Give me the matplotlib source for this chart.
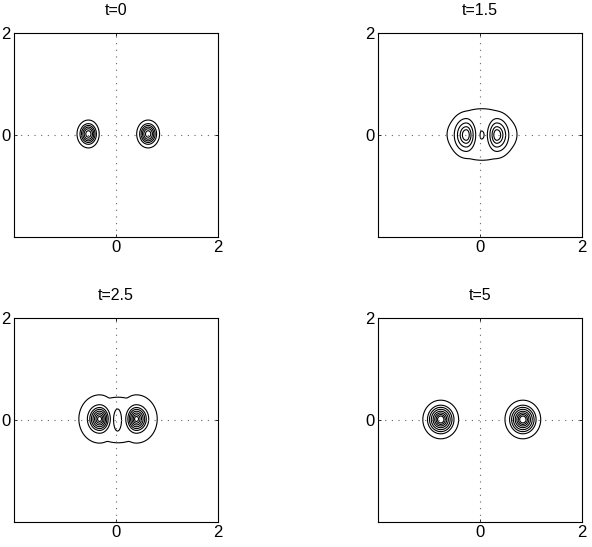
import numpy as np
import matplotlib
matplotlib.use("Agg")
import matplotlib.pyplot as plt

plt.rcParams['font.family'] = ['Liberation Sans', 'DejaVu Sans']

titles = ["t=0", "t=1.5", "t=2.5", "t=5"]
tick_vals = [0, 2]
tick_labels = ["0", "2"]

# blob components: x0, y0, width to the left, width to the right, height, amplitude, sharpness
blobs_t0 = [(-0.54, 0.02, 0.16, 0.15, 0.195, 1.0, 2),
            (0.63, 0.02, 0.16, 0.16, 0.195, 1.0, 2)]
levels_t0 = [0.14, 0.34, 0.48, 0.62, 0.76, 0.90]

blobs_t15 = [(-0.27, 0.0, 0.226, 0.178, 0.31, 1.0, 2),
             (0.33, 0.0, 0.178, 0.226, 0.31, 1.0, 2),
             (0.04, 0.01, 0.76, 0.76, 0.56, 0.25, 3),
             (0.03, 0.0, 0.07, 0.12, 0.19, 0.40, 2)]
levels_t15 = [0.12, 0.34, 0.56, 0.76, 0.895]

blobs_t25 = [(-0.32, 0.02, 0.22, 0.19, 0.255, 1.0, 2),
             (0.40, 0.02, 0.19, 0.22, 0.255, 1.0, 2),
             (0.04, 0.0, 0.42, 0.42, 0.33, 0.20, 2),
             (0.03, 0.0, 0.115, 0.115, 0.32, 0.33, 6)]
levels_t25 = [0.032, 0.30, 0.46, 0.58, 0.70, 0.81, 0.90, 0.965]

blobs_t5 = [(-0.77, 0.01, 0.25, 0.25, 0.27, 1.0, 2),
            (0.84, 0.01, 0.25, 0.25, 0.27, 1.0, 2)]
levels_t5 = [0.14, 0.34, 0.46, 0.58, 0.70, 0.80, 0.88, 0.94]

panels = [(blobs_t0, levels_t0), (blobs_t15, levels_t15),
          (blobs_t25, levels_t25), (blobs_t5, levels_t5)]


def field(X, Y, blobs, p=8):
    acc = np.zeros_like(X)
    for x0, y0, sl, sr, sy, a, q in blobs:
        sx = np.where(X < x0, sl, sr)
        rho2 = ((X - x0) / sx) ** 2 + ((Y - y0) / sy) ** 2
        g = a * np.exp(-rho2 ** (q / 2.0))
        acc += g ** p
    return acc ** (1.0 / p)


W, H = 592, 547
fig = plt.figure(figsize=(W / 100, H / 100), dpi=100)
lefts = [14, 378, 14, 378]
tops = [33, 33, 318, 318]
size = 204

xs = np.linspace(-2, 2, 801)
X, Y = np.meshgrid(xs, xs)

for i, (blobs, levels) in enumerate(panels):
    l = lefts[i] / W
    b = (H - tops[i] - size) / H
    ax = fig.add_axes([l, b, size / W, size / H])
    Z = field(X, Y, blobs)
    ax.contour(X, Y, Z, levels=levels, colors='black', linewidths=0.8)
    ax.axhline(0, color='0.4', linestyle=(0, (1, 5)), linewidth=0.8)
    ax.axvline(0, color='0.4', linestyle=(0, (1, 5)), linewidth=0.8)
    ax.set_xlim(-2, 2)
    ax.set_ylim(-2, 2)
    ax.set_xticks(tick_vals)
    ax.set_yticks(tick_vals)
    ax.set_xticklabels(tick_labels)
    ax.set_yticklabels(tick_labels)
    ax.tick_params(direction='in', length=2, width=0.6, labelsize=12,
                   top=True, right=True, pad=2.5)
    for s in ax.spines.values():
        s.set_linewidth(0.8)
    ax.set_title(titles[i], fontsize=11.5, pad=13)

fig.savefig("out.png", dpi=100)
